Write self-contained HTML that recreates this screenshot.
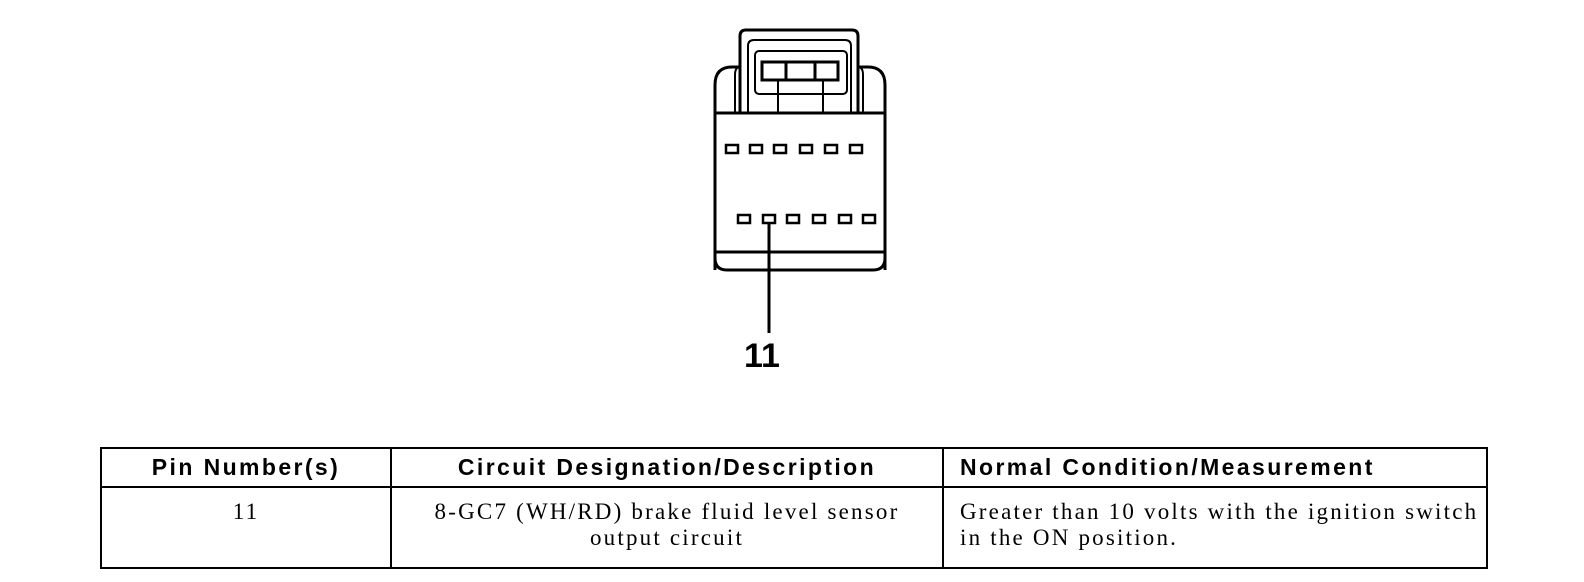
<!DOCTYPE html>
<html><head><style>
body{margin:0;width:1584px;height:582px;background:#fff;position:relative;overflow:hidden}
table{position:absolute;left:100px;top:447px;border-collapse:collapse;width:1388px;table-layout:fixed}
td,th{border:2px solid #000;padding:0;overflow:hidden;white-space:nowrap}
th{font:bold 23px "Liberation Sans",sans-serif;letter-spacing:2.4px;height:37px}
td{font:23px "Liberation Serif",serif;letter-spacing:2.2px;height:68px;vertical-align:top;line-height:26px;padding-top:11px}
</style></head><body>
<svg width="1584" height="420" style="position:absolute;left:0;top:0" fill="none" stroke="#000" stroke-width="3">
<path d="M715 270 L715 85 Q715 67 732 67 L740 67 M885 270 L885 85 Q885 67 868 67 L858 67"/>
<path d="M715 255 L715 258 Q715 270 727 270 L873 270 Q885 270 885 258 L885 255" />
<line x1="715" y1="252" x2="885" y2="252"/>
<line x1="715" y1="113" x2="885" y2="113"/>
<path d="M740 113 L740 36 Q740 30 746 30 L852 30 Q858 30 858 36 L858 113" />
<path d="M735 113 L735 75 Q735 67 740 67 M863 113 L863 75 Q863 67 858 67" stroke-width="2"/>
<path d="M748 113 L748 46 Q748 40 754 40 L845 40 Q851 40 851 46 L851 113" stroke-width="2"/>
<rect x="755" y="51" width="92" height="43" rx="4" stroke-width="2"/>
<rect x="762" y="62" width="76" height="18"/>
<line x1="786" y1="62" x2="786" y2="80"/><line x1="815" y1="62" x2="815" y2="80"/>
<line x1="778" y1="80" x2="778" y2="113" stroke-width="2"/><line x1="823" y1="80" x2="823" y2="113" stroke-width="2"/>
<g stroke-width="2.5">
<rect x="726" y="145" width="12" height="8"/><rect x="750" y="145" width="12" height="8"/><rect x="774" y="145" width="12" height="8"/><rect x="800" y="145" width="12" height="8"/><rect x="825" y="145" width="12" height="8"/><rect x="850" y="145" width="12" height="8"/>
<rect x="738" y="215" width="12" height="8"/><rect x="763" y="215" width="12" height="8"/><rect x="787" y="215" width="12" height="8"/><rect x="813" y="215" width="12" height="8"/><rect x="839" y="215" width="12" height="8"/><rect x="863" y="215" width="12" height="8"/>
</g>
<line x1="769" y1="223" x2="769" y2="333"/>
<text x="762" y="367" text-anchor="middle" fill="#000" stroke="none" font-family="Liberation Sans Narrow, Liberation Sans, sans-serif" font-weight="bold" font-size="34">11</text>
</svg>
<table>
<tr><th style="width:288px">Pin Number(s)</th><th style="width:550px">Circuit Designation/Description</th><th style="text-align:left;padding-left:16px">Normal Condition/Measurement</th></tr>
<tr><td style="text-align:center">11</td><td style="text-align:center">8-GC7 (WH/RD) brake fluid level sensor<br>output circuit</td><td style="padding-left:16px">Greater than 10 volts with the ignition switch<br>in the ON position.</td></tr>
</table>
</body></html>
